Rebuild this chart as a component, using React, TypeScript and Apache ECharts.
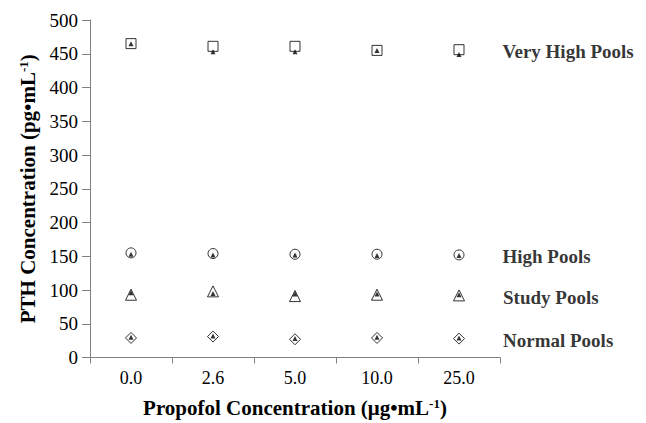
import React, { useEffect, useRef } from "react";
import * as echarts from "echarts";

const categories = ["0.0", "2.6", "5.0", "10.0", "25.0"];
const yTicks = { min: 0, max: 500, interval: 50 };

const veryHighOpen = [465, 461, 461, 455, 456];
const veryHighFilled = [465, 453, 453, 455, 449];
const highOpen = [155, 154, 153, 153, 152];
const highFilled = [153, 152, 152, 151, 151];
const studyOpen = [93, 98, 91, 93, 92];
const studyFilled = [96, 95, 94, 94, 93];
const normalOpen = [29, 31, 27, 29, 28];
const normalFilled = [30, 32, 28, 30, 29];

const groupNames = ["Very High Pools", "High Pools", "Study Pools", "Normal Pools"];
const groupSymbols = ["rect", "circle", "triangle", "diamond"];

const FONT = "Liberation Serif";

export default function App() {
  const ref = useRef<HTMLDivElement>(null);
  useEffect(() => {
    if (!ref.current) return;
    const chart = echarts.init(ref.current, undefined, { renderer: "svg" });
    const opens = [veryHighOpen, highOpen, studyOpen, normalOpen];
    const filleds = [veryHighFilled, highFilled, studyFilled, normalFilled];
    const series: any[] = [];
    opens.forEach((vals, gi) => {
      series.push({
        type: "scatter",
        name: groupNames[gi],
        symbol: groupSymbols[gi],
        symbolSize: groupSymbols[gi] === "triangle" || groupSymbols[gi] === "diamond" ? 11 : 10,
        itemStyle: { color: "#fff", borderColor: "#000", borderWidth: 1 },
        data: vals.map((v, i) =>
          i === vals.length - 1
            ? {
                value: v,
                label: {
                  show: true,
                  position: "right",
                  distance: 38,
                  offset: [0, 2],
                  formatter: groupNames[gi],
                  fontFamily: FONT,
                  fontWeight: "bold",
                  fontSize: 19,
                  color: "#000",
                },
              }
            : v
        ),
        z: 2,
      });
      series.push({
        type: "scatter",
        name: groupNames[gi] + " (propofol)",
        symbol: "triangle",
        symbolSize: 5,
        itemStyle: { color: "#000" },
        data: filleds[gi],
        z: 3,
      });
    });
    const supStyle = { fontFamily: FONT, fontSize: 13, fontWeight: "bold", color: "#000", verticalAlign: "top", padding: [0, 0, 9, 0] };
    chart.setOption({
      animation: false,
      backgroundColor: "#fff",
      textStyle: { fontFamily: FONT, color: "#000" },
      grid: { left: 90, right: 146, top: 20, bottom: 65 },
      xAxis: {
        type: "category",
        data: categories,
        boundaryGap: true,
        axisLine: { lineStyle: { color: "#808080", width: 1 } },
        axisTick: { show: true, inside: false, length: 6, lineStyle: { color: "#808080" } },
        axisLabel: { fontFamily: FONT, fontSize: 18, color: "#000", margin: 11 },
        splitLine: { show: false },
        name: "Propofol Concentration (μg•mL{sup|-1})",
        nameLocation: "middle",
        nameGap: 39,
        nameTextStyle: {
          fontFamily: FONT,
          fontSize: 21,
          fontWeight: "bold",
          color: "#000",
          rich: { sup: supStyle },
        },
      },
      yAxis: {
        type: "value",
        min: yTicks.min,
        max: yTicks.max,
        interval: yTicks.interval,
        axisLine: { show: true, lineStyle: { color: "#808080", width: 1 } },
        axisTick: { show: true, inside: false, length: 8, lineStyle: { color: "#808080" } },
        axisLabel: { fontFamily: FONT, fontSize: 19, color: "#000", margin: 12 },
        splitLine: { show: false },
        name: "PTH Concentration (pg•mL{sup|-1})",
        nameLocation: "middle",
        nameGap: 51,
        nameTextStyle: {
          fontFamily: FONT,
          fontSize: 21,
          fontWeight: "bold",
          color: "#000",
          rich: { sup: supStyle },
        },
      },
      series,
    });
    return () => chart.dispose();
  }, []);
  return (
    <div
      ref={ref}
      style={{ position: "fixed", left: 0, top: 0, width: 646, height: 423 }}
    />
  );
}
